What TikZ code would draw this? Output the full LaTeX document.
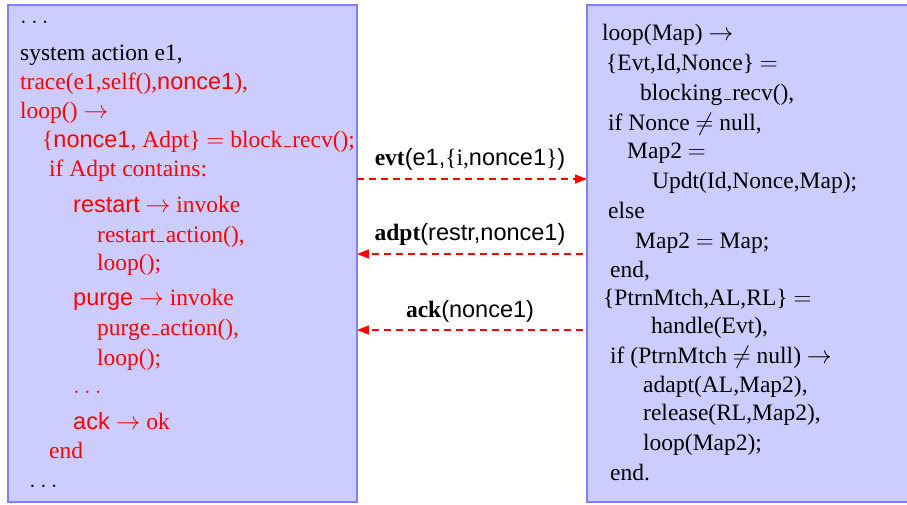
\documentclass[tikz,border=0pt]{standalone}
\usepackage{fontspec}
\setmainfont{Liberation Serif}
\setsansfont{Liberation Sans}
\usetikzlibrary{arrows.meta}
\newcommand\hv[1]{{\sffamily #1}}
\newcommand\us{\kern.06em\vbox{\hrule width .3em height .06em}\kern.06em}
\definecolor{boxfill}{HTML}{CCCCFF}
\definecolor{boxline}{HTML}{8080FF}
\tikzset{
  box/.style={draw=boxline, fill=boxfill, line width=1.5pt, rectangle, inner sep=0pt, outer sep=0pt, anchor=north west},
  ln/.style={anchor=base west, inner sep=0pt, font=\fontsize{23.5}{28}\selectfont},
  rd/.style={ln, text=red},
  lbl/.style={anchor=base, inner sep=0pt, font=\fontsize{23.5}{28}\selectfont},
  msg/.style={draw=red, line width=1.5pt, dash pattern=on 7pt off 5pt, -{Triangle[length=12pt,width=9pt]}}
}
\begin{document}
\begin{tikzpicture}[x=1pt,y=-1pt]
\useasboundingbox (0,0) rectangle (907,504);
\clip (0,0) rectangle (907,504);
% boxes
\node[box, minimum width=349pt, minimum height=497pt] (L) at (8,5) {};
\node[box, minimum width=340pt, minimum height=497pt] (R) at (587,5) {};
% left text
\node[ln] (l1) at (20,23) {$\ldots$};
\node[ln] (l2) at (20,60) {system action e1,};
\node[rd] (l3) at (20,89) {trace(e1,self(),\hv{nonce1}),};
\node[rd] (l4) at (20,118) {loop() $\rightarrow$};
\node[rd] (l5) at (42,147) {\{\hv{nonce1}, Adpt\} $=$ block\us recv();};
\node[rd] (l6) at (49,176) {if Adpt contains:};
\node[rd] (l7) at (73,212) {\hv{restart} $\rightarrow$ invoke};
\node[rd] (l8) at (97,242) {restart\us action(),};
\node[rd] (l9) at (97,270) {loop();};
\node[rd] (l10) at (73,305) {\hv{purge} $\rightarrow$ invoke};
\node[rd] (l11) at (97,335) {purge\us action(),};
\node[rd] (l12) at (97,365) {loop();};
\node[rd] (l13) at (73,393) {$\ldots$};
\node[rd] (l14) at (73,429) {\hv{ack} $\rightarrow$ ok};
\node[rd] (l15) at (49,458) {end};
\node[ln] (l16) at (29,487) {$\ldots$};
% right text
\node[ln] (r1) at (602,40) {loop(Map) $\rightarrow$};
\node[ln] (r2) at (606,70) {\{Evt,Id,Nonce\} $=$};
\node[ln] (r3) at (640,100) {blocking\us recv(),};
\node[ln] (r4) at (608,130) {if Nonce $\neq$ null,};
\node[ln] (r5) at (627,158) {Map2 $=$};
\node[ln] (r6) at (652,188) {Updt(Id,Nonce,Map);};
\node[ln] (r7) at (608,218) {else};
\node[ln] (r8) at (635,248) {Map2 $=$ Map;};
\node[ln] (r9) at (610,277) {end,};
\node[ln] (r10) at (603,305) {\{PtrnMtch,AL,RL\} $=$};
\node[ln] (r11) at (651,333) {handle(Evt),};
\node[ln] (r12) at (610,363) {if (PtrnMtch $\neq$ null) $\rightarrow$};
\node[ln] (r13) at (643,392) {adapt(AL,Map2),};
\node[ln] (r14) at (643,420) {release(RL,Map2),};
\node[ln] (r15) at (643,450) {loop(Map2);};
\node[ln] (r16) at (610,480) {end.};
% message labels
\node[lbl] (m1) at (470,165) {\textbf{evt}\hv{(e1,}\{i,\hv{nonce1}\}\hv{)}};
\node[lbl] (m2) at (470,240) {\textbf{adpt}\hv{(restr,nonce1)}};
\node[lbl] (m3) at (470,317) {\textbf{ack}\hv{(nonce1)}};
% message arrows
\coordinate (a1s) at (L.east |- 0,179);
\coordinate (a1e) at (R.west |- 0,179);
\coordinate (a2s) at (583,254);
\coordinate (a2e) at (L.east |- 0,254);
\coordinate (a3s) at (583,330);
\coordinate (a3e) at (L.east |- 0,330);
\draw[msg] (a1s) -- (a1e);
\draw[msg] (a2s) -- (a2e);
\draw[msg] (a3s) -- (a3e);
\end{tikzpicture}
\end{document}
